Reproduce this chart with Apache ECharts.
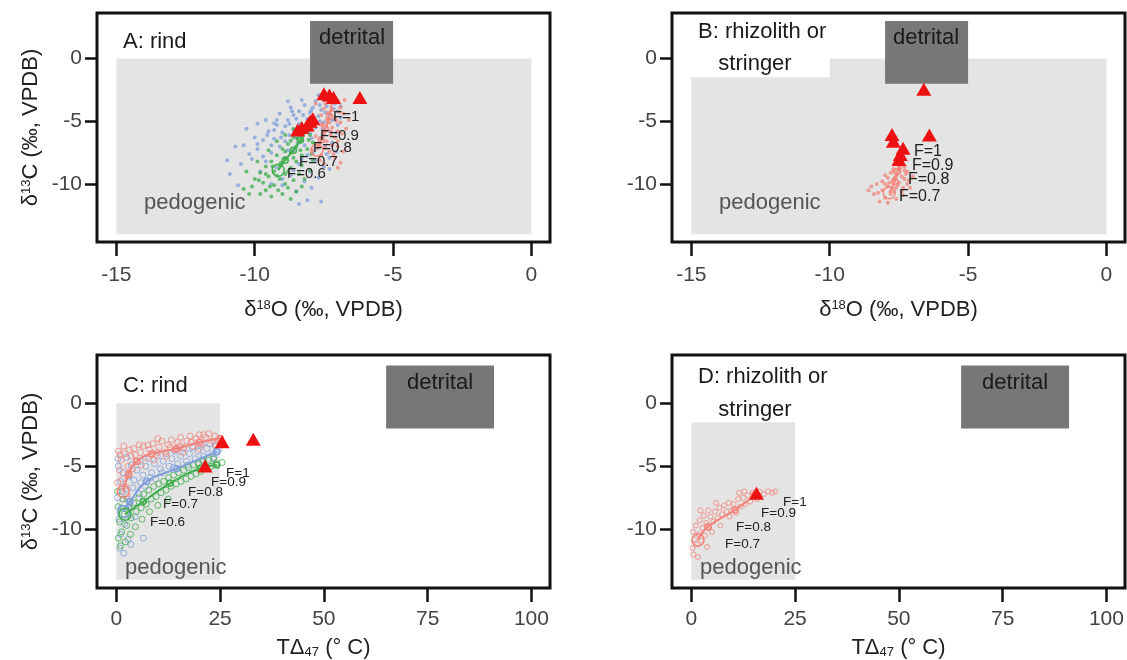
<!DOCTYPE html>
<html><head><meta charset="utf-8">
<script src="https://cdn.jsdelivr.net/npm/echarts@6/dist/echarts.min.js"></script>
<style>html,body{margin:0;padding:0;background:#fff}#c{width:1127px;height:660px}</style>
</head><body><div id="c"></div>
<script>
// ---------- tick values ----------
const ticksO = [-15, -10, -5, 0];
const ticksT = [0, 25, 50, 75, 100];
const ticksC = [-10, -5, 0];

// ---------- field regions (axis units) ----------
const pedoA = [[-15,-14],[0,-14],[0,0],[-15,0]];
const pedoB = [[-15,-14],[0,-14],[0,0],[-10,0],[-10,-1.5],[-15,-1.5]];
const pedoC = [[0,-14],[25,-14],[25,0],[0,0]];
const pedoD = [[0,-14],[25,-14],[25,-1.5],[0,-1.5]];
const detO = [[-8,-2],[-5,-2],[-5,3],[-8,3]];
const detT = [[65,-2],[91,-2],[91,3],[65,3]];

// ---------- measured samples (triangles) ----------
const triA = [[-6.2,-3.1],[-7.5,-2.8],[-7.3,-2.9],[-7.15,-3.1],[-7.9,-4.8],[-8.0,-5.0],[-8.1,-5.3],[-8.3,-5.5],[-8.45,-5.7]];
const triB = [[-6.6,-2.45],[-7.75,-6.05],[-7.7,-6.6],[-6.4,-6.1],[-7.35,-7.15],[-7.45,-7.65],[-7.5,-8.05]];
const triC = [[25.5,-3.05],[33.0,-2.86],[21.4,-4.98]];
const triD = [[15.7,-7.14]];

// ---------- model clouds ----------
const blueA = [[-7.2,-3.0],[-7.5,-3.3],[-7.8,-3.4],[-7.1,-3.6],[-7.4,-3.8],[-7.9,-3.9],[-8.2,-3.7],[-7.6,-4.1],[-7.0,-4.2],[-8.0,-4.3],[-8.4,-4.2],[-7.3,-4.5],[-7.7,-4.6],[-8.6,-4.5],[-8.1,-4.8],[-7.2,-4.9],[-8.8,-4.9],[-7.5,-5.1],[-8.4,-5.2],[-7.0,-5.3],[-8.9,-5.4],[-7.8,-5.5],[-9.2,-5.3],[-8.6,-5.7],[-7.3,-5.8],[-9.0,-5.9],[-8.0,-6.0],[-9.5,-5.8],[-8.5,-6.3],[-7.6,-6.3],[-9.3,-6.4],[-8.9,-6.6],[-7.2,-6.7],[-9.7,-6.5],[-8.2,-6.9],[-9.1,-7.0],[-7.7,-7.1],[-9.9,-7.2],[-8.6,-7.3],[-9.4,-7.5],[-7.4,-7.6],[-8.1,-7.7],[-10.2,-7.6],[-8.9,-7.9],[-7.8,-8.1],[-9.6,-8.2],[-8.4,-8.4],[-7.5,-8.6],[-9.2,-8.7],[-8.0,-9.0],[-9.8,-9.0],[-8.7,-9.3],[-8.2,-9.8],[-9.0,-10.1],[-8.5,-10.6],[-8.1,-11.3],[-10.7,-7.0],[-10.3,-5.6],[-10.0,-6.3],[-9.6,-4.9],[-9.1,-4.4],[-8.7,-3.9],[-8.3,-3.3],[-7.7,-2.9],[-10.5,-8.4],[-10.9,-9.2],[-9.4,-10.0],[-7.3,-7.9],[-6.9,-4.7],[-6.9,-3.8],[-8.8,-3.4],[-9.9,-5.2],[-7.6,-11.4],[-7.3,-8.8],[-8.4,-11.6],
  [-7.35,-3.4],[-7.65,-3.7],[-7.95,-4.1],[-8.25,-4.5],[-7.45,-4.3],[-7.85,-4.95],[-8.5,-4.8],[-8.15,-5.35],[-7.55,-5.6],[-8.75,-5.2],[-8.35,-5.9],[-7.95,-6.35],[-8.75,-6.1],[-9.05,-6.3],[-8.45,-6.75],[-7.45,-6.95],[-9.3,-5.7],[-7.05,-5.9],[-8.65,-4.2],[-9.2,-4.9],[-9.4,-6.9],[-8.8,-7.3],[-7.9,-7.5],[-9.7,-7.8],[-8.3,-8.0],[-7.15,-4.0],[-7.65,-5.0],[-8.05,-5.75],[-9.55,-6.1],[-10.1,-8.0],[-8.6,-8.9],[-9.0,-9.6],[-7.7,-9.5],[-7.95,-10.3],[-9.3,-5.15],[-9.9,-6.8],[-10.4,-6.9],[-11.0,-8.1],[-10.6,-10.1],[-7.05,-7.4]];
const redA = [[-7.3,-3.2],[-7.0,-3.4],[-6.9,-3.9],[-7.2,-4.1],[-7.5,-4.0],[-6.8,-4.4],[-7.1,-4.7],[-7.4,-4.9],[-6.9,-5.1],[-7.6,-5.3],[-7.2,-5.5],[-7.0,-5.8],[-7.5,-6.0],[-7.8,-6.2],[-7.1,-6.3],[-7.4,-6.6],[-7.7,-6.9],[-7.0,-7.0],[-7.9,-7.3],[-7.3,-7.4],[-7.6,-7.7],[-7.1,-7.9],[-6.9,-8.3],[-7.5,-8.4],[-7.2,-6.9],[-7.6,-4.5],[-7.8,-3.6],[-6.7,-5.6],[-7.3,-5.1],[-7.0,-6.6],
  [-7.15,-3.35],[-7.45,-3.6],[-6.95,-4.25],[-7.35,-4.3],[-7.05,-4.95],[-7.55,-5.2],[-7.25,-5.8],[-6.85,-6.0],[-7.6,-6.4],[-7.25,-6.1],[-7.45,-7.1],[-7.15,-7.6],[-7.65,-8.1],[-6.8,-7.4],[-7.0,-8.7],[-6.75,-3.3],[-6.6,-4.9]];
const greenA = [[-8.2,-5.5],[-8.4,-5.9],[-8.0,-6.1],[-8.6,-6.3],[-8.3,-6.6],[-7.9,-6.7],[-8.8,-6.8],[-8.5,-7.0],[-8.1,-7.2],[-9.0,-7.2],[-8.7,-7.5],[-8.3,-7.7],[-9.2,-7.7],[-8.9,-8.0],[-8.5,-8.2],[-9.4,-8.2],[-9.1,-8.5],[-8.7,-8.7],[-9.6,-8.6],[-9.3,-9.0],[-8.9,-9.2],[-9.8,-9.1],[-9.5,-9.4],[-9.1,-9.6],[-10.0,-9.6],[-9.7,-9.9],[-9.3,-10.1],[-8.8,-10.3],[-10.1,-10.2],[-9.6,-10.5],[-9.0,-10.8],[-8.5,-10.6],[-8.2,-9.6],[-8.0,-8.9],[-7.9,-8.1],[-8.4,-9.2],[-9.9,-8.2],[-10.3,-9.0],[-8.6,-5.6],[-8.9,-6.1],[-9.2,-6.6],[-9.5,-7.3],[-10.2,-10.8],[-9.4,-11.0],[-8.7,-11.2],
  [-8.15,-5.85],[-8.45,-6.4],[-8.05,-6.5],[-8.7,-6.55],[-8.35,-7.3],[-8.9,-7.4],[-8.6,-7.9],[-9.05,-8.3],[-8.3,-8.5],[-9.35,-8.6],[-8.8,-9.0],[-9.6,-9.2],[-9.2,-9.35],[-8.6,-9.7],[-9.85,-9.7],[-9.45,-10.2],[-8.9,-10.0],[-10.4,-10.4],[-9.8,-10.8],[-9.15,-10.5],[-8.3,-10.2],[-7.95,-7.6]];
const redB = [[-7.4,-8.2],[-7.6,-8.4],[-7.3,-8.6],[-7.7,-8.8],[-7.5,-8.9],[-7.2,-9.0],[-7.8,-9.1],[-7.6,-9.3],[-7.4,-9.4],[-7.9,-9.5],[-7.3,-9.6],[-7.7,-9.7],[-8.1,-9.8],[-7.5,-9.9],[-7.2,-10.0],[-8.3,-10.0],[-7.9,-10.2],[-7.6,-10.3],[-8.5,-10.2],[-8.1,-10.5],[-7.4,-10.6],[-7.8,-10.8],[-8.4,-10.8],[-8.0,-11.1],[-7.6,-11.2],[-8.2,-11.4],[-7.3,-8.9],[-7.0,-9.4],[-7.1,-10.3],[-7.7,-9.0],[-8.0,-9.3],[-8.6,-10.5],[-7.5,-8.5],[-7.9,-11.5],[-7.35,-10.9],
  [-7.45,-8.7],[-7.65,-9.5],[-7.25,-9.2],[-7.85,-9.9],[-7.55,-10.1],[-7.35,-10.3],[-8.0,-10.0],[-7.7,-10.6],[-8.25,-10.7],[-7.15,-9.7]];
const redC = [[0.5,-3.8],[1.2,-4.5],[2.0,-4.0],[2.8,-5.0],[3.5,-4.2],[4.2,-3.6],[5.0,-4.6],[5.8,-3.9],[6.5,-3.4],[7.2,-4.3],[8.0,-3.7],[8.8,-3.2],[9.5,-4.1],[10.3,-3.5],[11.0,-3.0],[11.8,-3.9],[12.5,-3.3],[13.3,-2.9],[14.0,-3.7],[14.8,-3.1],[15.5,-2.7],[16.3,-3.5],[17.0,-3.0],[17.8,-2.6],[18.5,-3.4],[19.3,-2.8],[20.0,-2.5],[20.8,-3.2],[21.5,-2.7],[22.3,-2.4],[23.0,-3.0],[23.8,-2.6],[24.5,-2.9],[0.8,-5.3],[1.5,-6.0],[2.2,-6.6],[1.0,-7.0],[2.6,-7.4],[0.3,-6.3],[3.0,-5.7],[4.0,-5.2],[6.0,-4.9],[9.0,-4.5],[12.0,-4.2],[16.0,-3.9],[20.0,-3.6],[1.8,-3.4],[5.5,-3.3],[10.0,-2.8],
  [0.9,-4.1],[3.2,-3.7],[4.6,-4.1],[7.6,-3.3],[9.9,-3.9],[13.0,-3.5],[15.2,-3.4],[18.0,-3.1],[21.0,-2.5],[24.0,-3.3]];
const blueC = [[0.5,-5.0],[1.0,-6.2],[1.6,-5.5],[2.3,-6.8],[3.0,-5.8],[3.6,-4.9],[4.3,-6.1],[5.0,-5.3],[5.7,-4.6],[6.4,-5.7],[7.1,-5.0],[7.8,-4.4],[8.5,-5.5],[9.2,-4.8],[9.9,-4.2],[10.6,-5.2],[11.3,-4.6],[12.0,-4.0],[12.7,-5.0],[13.4,-4.4],[14.1,-3.8],[14.8,-4.8],[15.5,-4.2],[16.2,-3.6],[16.9,-4.6],[17.6,-4.0],[18.3,-3.5],[19.0,-4.4],[19.7,-3.8],[20.4,-3.3],[21.1,-4.2],[21.8,-3.6],[22.5,-3.2],[23.2,-4.0],[23.9,-3.4],[24.6,-3.7],[0.3,-7.5],[1.2,-8.3],[0.6,-9.2],[2.0,-9.6],[1.0,-10.4],[2.8,-10.8],[0.8,-11.5],[3.5,-11.2],[1.8,-11.9],[4.5,-9.0],[3.2,-8.0],[5.5,-7.2],[7.0,-6.6],[9.5,-6.0],[0.4,-4.4],[2.5,-4.3],[6.5,-10.7],
  [1.4,-7.0],[2.6,-7.6],[4.0,-6.7],[5.9,-6.3],[8.2,-5.9],[11.0,-5.5],[13.8,-5.1],[17.2,-4.9],[20.6,-4.5],[23.5,-4.3]];
const greenC = [[0.4,-8.2],[0.8,-9.4],[1.3,-10.2],[0.5,-10.7],[1.9,-8.8],[2.5,-9.7],[3.0,-8.3],[3.6,-9.1],[4.2,-7.9],[4.8,-8.6],[5.4,-7.5],[6.0,-8.3],[6.6,-7.2],[7.2,-8.0],[7.8,-6.9],[8.4,-7.6],[9.0,-6.6],[9.6,-7.4],[10.2,-6.4],[10.8,-7.1],[11.4,-6.2],[12.0,-6.9],[12.6,-5.9],[13.2,-6.6],[13.8,-5.7],[14.4,-6.4],[15.0,-5.5],[15.6,-6.2],[16.2,-5.3],[16.8,-6.0],[17.4,-5.1],[18.0,-5.8],[18.6,-4.9],[19.2,-5.6],[19.8,-4.8],[20.4,-5.4],[21.0,-4.6],[21.6,-5.2],[22.2,-4.5],[22.8,-5.0],[23.4,-4.4],[24.0,-4.8],[1.0,-11.3],[2.2,-11.0],[3.4,-10.4],[4.6,-9.8],[6.2,-9.2],[8.0,-8.6],[10.0,-8.1],[12.5,-7.6],[0.3,-7.0],[1.6,-7.6],[25.5,-4.7]];
const redD = [[0.3,-11.5],[0.8,-10.8],[0.4,-10.2],[1.3,-11.2],[1.8,-10.4],[1.1,-9.7],[2.4,-10.9],[2.7,-9.9],[2.0,-9.3],[3.3,-10.5],[3.6,-9.5],[3.0,-8.9],[4.3,-9.9],[4.6,-9.0],[4.1,-8.5],[5.3,-9.4],[5.7,-8.6],[6.4,-9.1],[6.8,-8.3],[7.4,-8.8],[7.9,-8.1],[8.5,-8.6],[9.0,-7.9],[9.6,-8.5],[10.2,-8.0],[10.8,-8.7],[11.3,-7.6],[11.9,-8.2],[12.5,-7.5],[13.0,-8.0],[13.6,-7.3],[14.2,-7.8],[11.5,-7.1],[12.8,-7.0],[14.8,-7.1],[16.5,-7.0],[17.5,-7.2],[18.5,-7.0],[19.5,-7.1],[20.2,-7.0],[15.8,-7.6],[0.5,-12.0],[1.6,-12.2],[2.2,-8.5],[5.0,-10.2],[7.0,-9.7],[3.8,-11.4],[6.0,-7.9],[9.2,-9.0]];

// ---------- F-paths ----------
const greenPathA = [[-9.15,-8.9],[-8.9,-8.1],[-8.6,-7.3],[-8.35,-6.5],[-8.1,-5.6]];
const redPathA = [[-7.75,-7.3],[-7.6,-6.5],[-7.45,-5.6],[-7.3,-4.6],[-7.2,-3.3]];
const redPathB = [[-7.85,-10.7],[-7.65,-9.8],[-7.55,-9.0],[-7.45,-8.2]];
const redPathC = [[1.7,-7.0],[3.0,-5.6],[4.9,-4.6],[8.5,-4.0],[14.5,-3.6],[20.0,-3.1],[25.0,-2.8]];
const bluePathC = [[1.8,-8.6],[3.3,-7.8],[7.3,-6.2],[14.5,-5.2],[24.2,-3.84]];
const greenPathC = [[2.1,-8.8],[6.5,-7.8],[12.9,-6.35],[20.2,-5.16],[24.2,-4.9]];
const redPathD = [[1.6,-10.85],[4.0,-9.8],[10.5,-8.47],[15.3,-7.28]];

// ---------- text ----------
const panelTitles = ['A: rind', 'B: rhizolith or', 'C: rind', 'D: rhizolith or'];
const fLabelsA = ['F=1','F=0.9','F=0.8','F=0.7','F=0.6'];
const fLabelsB = ['F=1','F=0.9','F=0.8','F=0.7'];

const FONT = '"Liberation Sans", Arial, Helvetica, sans-serif';
const C_RED = '#f2847a', C_BLUE = '#7f9edb', C_GREEN = '#3fae4c', C_TRI = '#ee1111';

const grids = [
  {left: 97, top: 13, width: 453, height: 229},
  {left: 672, top: 13, width: 453, height: 229},
  {left: 97, top: 355, width: 453, height: 233},
  {left: 672, top: 355, width: 453, height: 233}
].map(g => Object.assign(g, {show: true, borderColor: '#111', borderWidth: 3, backgroundColor: 'transparent'}));

const nameO = '{d|δ}{s|18}{n|O (‰, VPDB)}';
const nameT = '{n|TΔ}{b|47}{n| (° C)}';
const nameC = '{d|δ}{s|13}{n|C (‰, VPDB)}';
const richName = {
  d: {fontSize: 22, fontFamily: FONT, color: '#222'},
  n: {fontSize: 22, fontFamily: FONT, color: '#222'},
  s: {fontSize: 13, fontFamily: FONT, color: '#222', verticalAlign: 'top'},
  b: {fontSize: 13, fontFamily: FONT, color: '#222', verticalAlign: 'bottom'}
};

function xAx(i, min, max, ticks, name, lblMargin, gap) {
  return {
    gridIndex: i, type: 'value', min, max,
    axisLine: {show: false, onZero: false},
    splitLine: {show: false},
    axisTick: {show: true, length: 14, customValues: ticks, lineStyle: {color: '#111', width: 2.5}},
    axisLabel: {customValues: ticks, fontSize: 21, color: '#444', margin: lblMargin, fontFamily: FONT},
    name, nameLocation: 'middle', nameGap: gap,
    nameTextStyle: {rich: richName}
  };
}
function yAx(i, min, max, ticks, name) {
  return {
    gridIndex: i, type: 'value', min, max,
    axisLine: {show: false, onZero: false},
    splitLine: {show: false},
    axisTick: {show: true, length: 12, customValues: ticks, lineStyle: {color: '#111', width: 2.5}},
    axisLabel: {customValues: ticks, fontSize: 21, color: '#444', margin: 15, fontFamily: FONT},
    name, nameLocation: 'middle', nameGap: 55, nameRotate: 90,
    nameTextStyle: {rich: richName}
  };
}

function poly(gi, pts, color, z) {
  return {
    type: 'custom', xAxisIndex: gi, yAxisIndex: gi, silent: true, z,
    data: [[pts[0][0], pts[0][1]]],
    renderItem: (p, api) => ({type: 'polygon', shape: {points: pts.map(q => api.coord(q))}, style: {fill: color}})
  };
}
function dots(gi, data, color, size, ring) {
  return {
    type: 'scatter', xAxisIndex: gi, yAxisIndex: gi, data, silent: true, z: 3,
    symbol: 'circle', symbolSize: size,
    itemStyle: ring ? {color: 'rgba(255,255,255,0)', borderColor: color, borderWidth: 1, opacity: 0.8}
                    : {color: color, opacity: 0.75}
  };
}
function path(gi, data, color) {
  return {
    type: 'line', xAxisIndex: gi, yAxisIndex: gi, data, silent: true, z: 4,
    symbol: 'circle', symbolSize: (v, p) => (p.dataIndex === 0 ? 12 : 6), showSymbol: true, smooth: true,
    lineStyle: {color, width: 2}, itemStyle: {color: 'rgba(255,255,255,0)', borderColor: color, borderWidth: 1.5}
  };
}
function tris(gi, data) {
  return {
    type: 'scatter', xAxisIndex: gi, yAxisIndex: gi, data, silent: true, z: 6,
    symbol: 'triangle', symbolSize: [15, 13], itemStyle: {color: C_TRI, opacity: 1}
  };
}

function txt(x, y, text, size, color, align) {
  return {type: 'text', x, y, z: 100, silent: true,
    style: {text, fontSize: size, fontFamily: FONT, fill: color, align: align || 'left', verticalAlign: 'middle'}};
}

const graphics = [
  txt(123, 42, panelTitles[0], 22, '#1a1a1a'),
  txt(698, 32, panelTitles[1], 22, '#1a1a1a'),
  txt(755, 64, 'stringer', 22, '#1a1a1a', 'center'),
  txt(123, 386, panelTitles[2], 22, '#1a1a1a'),
  txt(698, 377, panelTitles[3], 22, '#1a1a1a'),
  txt(755, 410, 'stringer', 22, '#1a1a1a', 'center'),
  txt(352, 38, 'detrital', 22, '#1a1a1a', 'center'),
  txt(926, 38, 'detrital', 22, '#1a1a1a', 'center'),
  txt(440, 383, 'detrital', 22, '#1a1a1a', 'center'),
  txt(1015, 383, 'detrital', 22, '#1a1a1a', 'center'),
  txt(144, 203, 'pedogenic', 22, '#555'),
  txt(719, 203, 'pedogenic', 22, '#555'),
  txt(125, 568, 'pedogenic', 22, '#555'),
  txt(700, 568, 'pedogenic', 22, '#555'),
  txt(333, 117, fLabelsA[0], 15, '#222'),
  txt(320, 136, fLabelsA[1], 15, '#222'),
  txt(313, 148, fLabelsA[2], 15, '#222'),
  txt(299, 162, fLabelsA[3], 15, '#222'),
  txt(287, 174, fLabelsA[4], 15, '#222'),
  txt(914, 152, fLabelsB[0], 16, '#222'),
  txt(912, 166, fLabelsB[1], 16, '#222'),
  txt(908, 180, fLabelsB[2], 16, '#222'),
  txt(899, 197, fLabelsB[3], 16, '#222'),
  txt(226, 473, fLabelsA[0], 13.5, '#222'),
  txt(211, 482, fLabelsA[1], 13.5, '#222'),
  txt(188, 492, fLabelsA[2], 13.5, '#222'),
  txt(163, 504, fLabelsA[3], 13.5, '#222'),
  txt(150, 522, fLabelsA[4], 13.5, '#222'),
  txt(783, 502, fLabelsB[0], 13.5, '#222'),
  txt(761, 513, fLabelsB[1], 13.5, '#222'),
  txt(736, 527, fLabelsB[2], 13.5, '#222'),
  txt(725, 544, fLabelsB[3], 13.5, '#222')
];

const option = {
  animation: false,
  backgroundColor: '#fff',
  grid: grids,
  xAxis: [
    xAx(0, -15.7, 0.67, ticksO, nameO, 23, 57),
    xAx(1, -15.7, 0.67, ticksO, nameO, 23, 57),
    xAx(2, -4.65, 104.48, ticksT, nameT, 21, 49),
    xAx(3, -4.65, 104.48, ticksT, nameT, 21, 49)
  ],
  yAxis: [
    yAx(0, -14.62, 3.63, ticksC, nameC),
    yAx(1, -14.62, 3.63, ticksC, ''),
    yAx(2, -14.66, 3.83, ticksC, nameC),
    yAx(3, -14.66, 3.83, ticksC, '')
  ],
  series: [
    poly(0, pedoA, '#e4e4e4', 1), poly(0, detO, '#777777', 2),
    poly(1, pedoB, '#e4e4e4', 1), poly(1, detO, '#777777', 2),
    poly(2, pedoC, '#e4e4e4', 1), poly(2, detT, '#777777', 2),
    poly(3, pedoD, '#e4e4e4', 1), poly(3, detT, '#777777', 2),
    dots(0, blueA, C_BLUE, 4), dots(0, redA, C_RED, 4), dots(0, greenA, C_GREEN, 4),
    path(0, greenPathA, C_GREEN), path(0, redPathA, C_RED),
    tris(0, triA),
    dots(1, redB, C_RED, 4), path(1, redPathB, C_RED), tris(1, triB),
    dots(2, blueC, C_BLUE, 6, true), dots(2, redC, C_RED, 6, true), dots(2, greenC, C_GREEN, 6, true),
    path(2, redPathC, C_RED), path(2, bluePathC, C_BLUE), path(2, greenPathC, C_GREEN),
    tris(2, triC),
    dots(3, redD, C_RED, 5, true), path(3, redPathD, C_RED), tris(3, triD)
  ],
  graphic: graphics
};
const chart = echarts.init(document.getElementById('c'), null, {renderer: 'canvas'});
chart.setOption(option);
</script></body></html>
